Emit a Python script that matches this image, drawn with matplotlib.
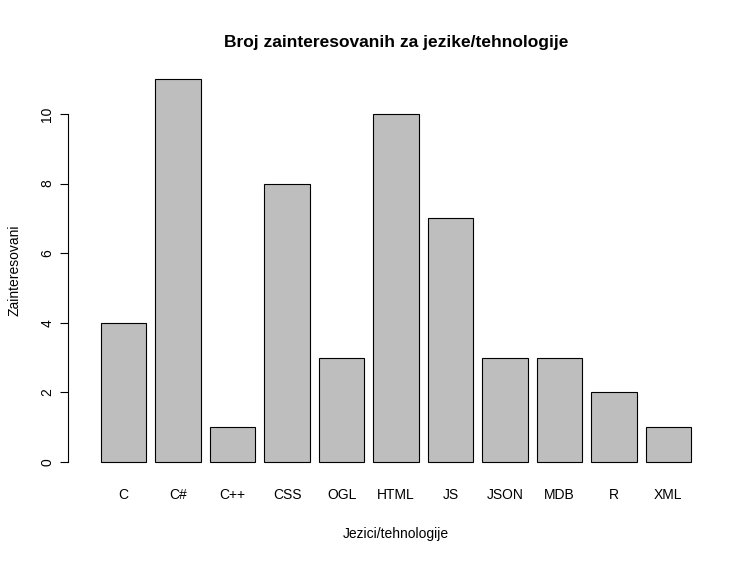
import matplotlib
matplotlib.use('Agg')
import matplotlib.pyplot as plt

plt.rcParams['font.family'] = ['Liberation Sans', 'DejaVu Sans']

labels = ['C', 'C#', 'C++', 'CSS', 'OGL', 'HTML', 'JS', 'JSON', 'MDB', 'R', 'XML']
counts = [4, 11, 1, 8, 3, 10, 7, 3, 3, 2, 1]

fig = plt.figure(figsize=(7.56, 5.64), dpi=100)
ax = fig.add_axes([0.1024, 0.1537, 0.843, 0.733])

# R barplot layout: width 1, space 0.2
xs = [0.2 + i * 1.2 + 0.5 for i in range(len(counts))]
ax.bar(xs, counts, width=1.0, color='#bebebe', edgecolor='black', linewidth=0.8)

ax.set_xlim(-0.32, 13.72)
ax.set_ylim(-0.44, 11.44)
for s in ['top', 'right', 'bottom']:
    ax.spines[s].set_visible(False)
ax.spines['left'].set_bounds(0, 10)
ax.spines['left'].set_position(('outward', 7))
ax.set_yticks([0, 2, 4, 6, 8, 10])
ax.set_yticklabels(['0', '2', '4', '6', '8', '10'], rotation=90, va='center', fontsize=10)
ax.tick_params(axis='y', length=6)
ax.set_xticks(xs)
ax.set_xticklabels(labels, fontsize=10)
ax.tick_params(axis='x', length=0, pad=7.5)

ax.set_xlabel('Jezici/tehnologije', fontsize=10, labelpad=18)
ax.set_ylabel('Zainteresovani', fontsize=10, labelpad=14)
ax.set_title('Broj zainteresovanih za jezike/tehnologije', fontsize=12.5, fontweight='bold', pad=12)

fig.savefig('out.png')
